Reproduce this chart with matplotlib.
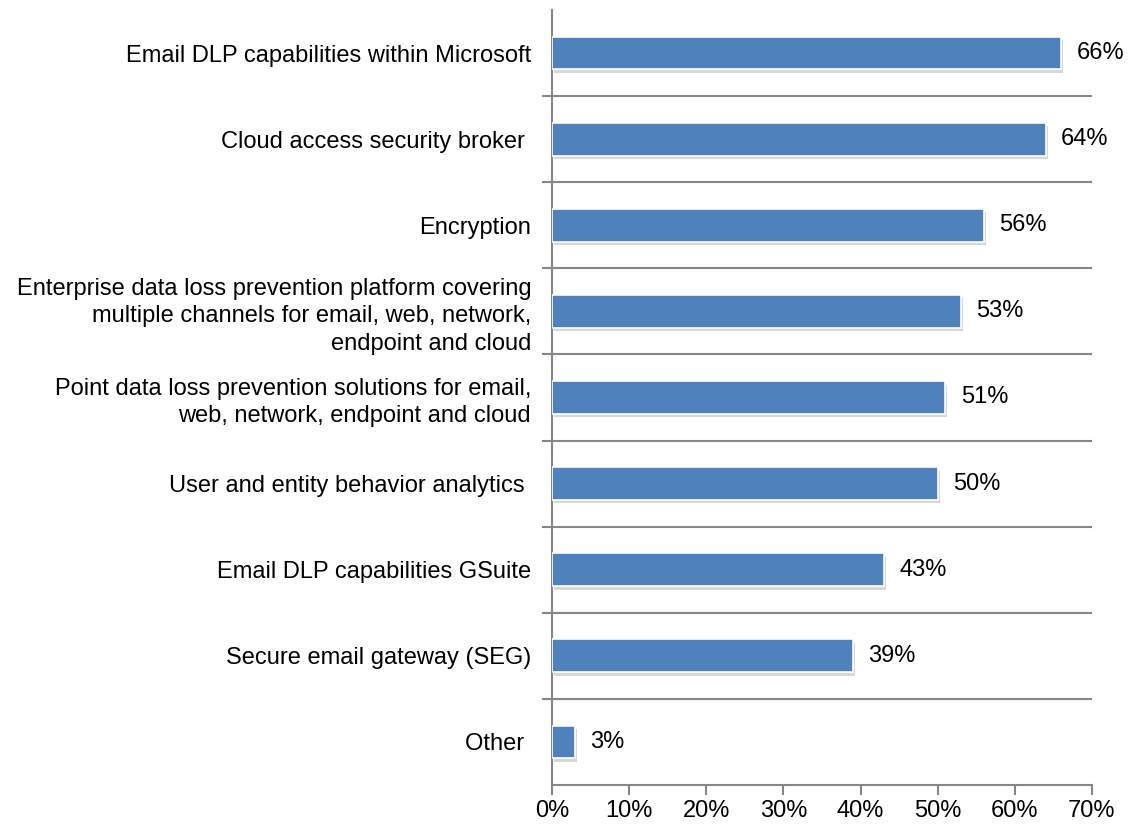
import matplotlib.pyplot as plt
import matplotlib.patheffects as pe
import numpy as np

plt.rcParams['font.family'] = ['Liberation Sans', 'DejaVu Sans']

labels = [
    'Email DLP capabilities within Microsoft',
    'Cloud access security broker ',
    'Encryption',
    'Enterprise data loss prevention platform covering\nmultiple channels for email, web, network,\nendpoint and cloud',
    'Point data loss prevention solutions for email,\nweb, network, endpoint and cloud',
    'User and entity behavior analytics ',
    'Email DLP capabilities GSuite',
    'Secure email gateway (SEG)',
    'Other ',
]
values = [66, 64, 56, 53, 51, 50, 43, 39, 3]
xticks = [0, 10, 20, 30, 40, 50, 60, 70]

fs = 17

fig = plt.figure(figsize=(11.29, 8.27), dpi=100)
ax = fig.add_axes([0.4889, 0.0508, 0.4783, 0.9371])

y = np.arange(len(labels))[::-1]
bars = ax.barh(y, values, height=0.38, color='#4F81BD', edgecolor='white',
               linewidth=1.2, zorder=3)
for b in bars:
    b.set_path_effects([pe.SimplePatchShadow(offset=(1.5, -2.5), shadow_rgbFace='#808080',
                                             alpha=0.3),
                        pe.Normal()])

for yi, v in zip(y, values):
    ax.text(v + 2.0, yi, f'{v}%', va='center', ha='left', fontsize=fs, color='black')

ax.set_xlim(0, 70)
ax.set_ylim(-0.5, len(labels) - 0.5)
ax.set_xticks(xticks)
ax.set_xticklabels([f'{t}%' for t in xticks], fontsize=fs)
ax.set_yticks(y)
ax.set_yticklabels(labels, fontsize=fs, linespacing=1.3)
ax.tick_params(axis='y', which='major', length=0, pad=15)
ax.tick_params(axis='x', length=7, color='#868686', width=1.5, pad=4)

# separators between categories
ax.set_yticks(np.arange(-0.5, len(labels) - 0.5, 1.0)[1:], minor=True)
ax.tick_params(axis='y', which='minor', length=7, color='#868686', width=1.5)
ax.grid(axis='y', which='minor', color='#868686', linewidth=1.5, zorder=0)

for s in ['top', 'right']:
    ax.spines[s].set_visible(False)
for s in ['left', 'bottom']:
    ax.spines[s].set_color('#868686')
    ax.spines[s].set_linewidth(1.5)

fig.savefig('out.png', dpi=100)
